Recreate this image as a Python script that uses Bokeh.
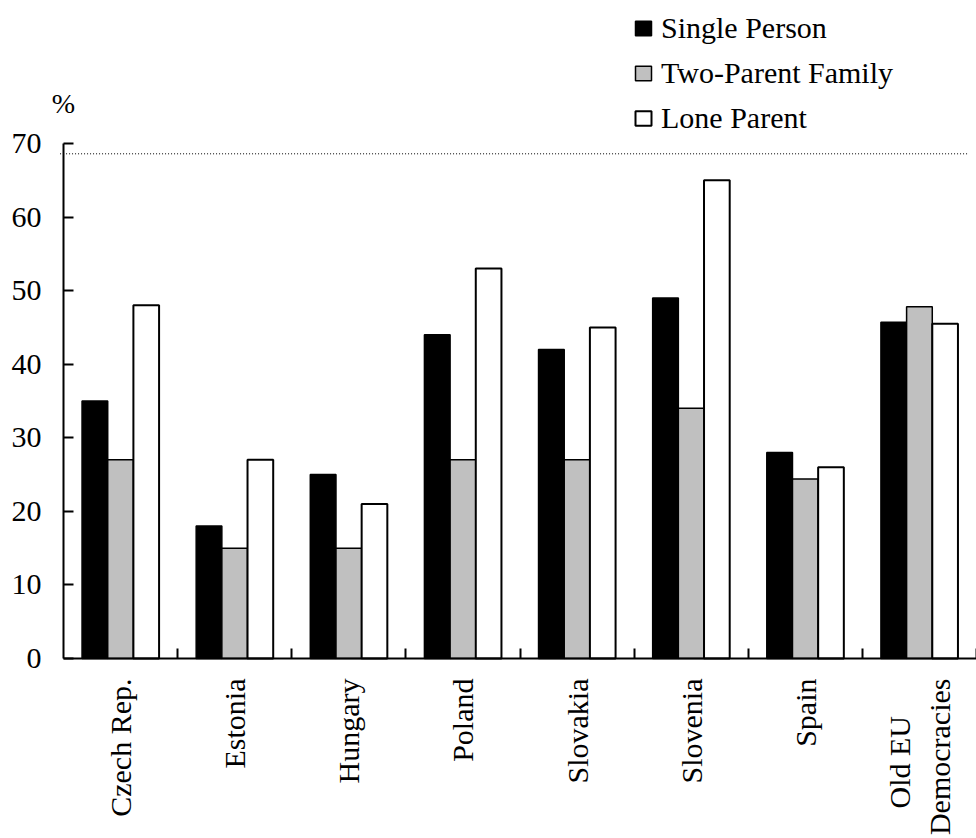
import math
from bokeh.plotting import figure
from bokeh.models import (ColumnDataSource, Range1d, FixedTicker, Legend, LegendItem,
                          Label)
from bokeh.transform import dodge
from bokeh.embed import file_html
from bokeh.resources import INLINE

categories = ["Czech Rep.", "Estonia", "Hungary", "Poland", "Slovakia",
              "Slovenia", "Spain", "Old EU\nDemocracies"]
single_person = [35, 18, 25, 44, 42, 49, 28, 45.7]
two_parent = [27, 15, 15, 27, 27, 34, 24.4, 47.8]
lone_parent = [48, 27, 21, 53, 45, 65, 26, 45.5]
series_names = ["Single Person", "Two-Parent Family", "Lone Parent"]
y_ticks = [0, 10, 20, 30, 40, 50, 60, 70]
y_max = 70
plot_area_top = 68.6
unit_label = "%"

FONT = "Liberation Serif"
W, H = 976, 838
AXIS_X = 63                 # screen x of the value axis
ZERO_Y = 658                # screen y of the zero line
px_per_unit = 515 / y_max
ncat = len(categories)
cat_px = (W - AXIS_X) / ncat
x_start = -0.5 - AXIS_X / cat_px

idx = list(range(ncat))
src = ColumnDataSource(dict(idx=idx, sp=single_person, tp=two_parent, lp=lone_parent))

p = figure(frame_width=W, frame_height=H, output_backend="svg",
           toolbar_location=None,
           x_range=Range1d(x_start, ncat - 0.5),
           y_range=Range1d(-(H - ZERO_Y) / px_per_unit, ZERO_Y / px_per_unit),
           min_border_left=0, min_border_right=0, min_border_top=0,
           min_border_bottom=0)
p.outline_line_color = None
p.xgrid.visible = False
p.ygrid.visible = False
p.background_fill_color = "white"
p.border_fill_color = "white"

bw = 0.225
r1 = p.vbar(x=dodge("idx", -bw, range=p.x_range), top="sp", width=bw, source=src,
            fill_color="black", line_color="black", line_width=1.5)
r2 = p.vbar(x=dodge("idx", 0, range=p.x_range), top="tp", width=bw, source=src,
            fill_color="#C0C0C0", line_color="black", line_width=1.5)
r3 = p.vbar(x=dodge("idx", bw, range=p.x_range), top="lp", width=bw, source=src,
            fill_color="white", line_color="black", line_width=2)

# dotted plot-area border line
p.segment(x0=[-0.53], x1=[ncat - 0.58], y0=[plot_area_top], y1=[plot_area_top],
          line_color="black", line_dash="1 2", line_width=1)

# y axis, drawn at the left edge of the first category
ya = p.yaxis[0]
ya.fixed_location = -0.5
ya.ticker = FixedTicker(ticks=y_ticks)
ya.bounds = (0, y_max)
ya.major_tick_in = 10
ya.major_tick_out = 0
ya.minor_tick_line_color = None
ya.axis_line_width = 2
ya.major_tick_line_width = 2
ya.axis_line_color = "black"
ya.major_label_text_font = FONT
ya.major_label_text_font_size = "30px"
ya.major_label_text_color = "black"
ya.major_label_standoff = 22

# x axis at zero: labels at centres, ticks at boundaries (minor)
def centred(label, pad=5):
    lines = label.split("\n")
    if len(lines) == 1:
        return label
    return "\n".join(l + "\u00a0" * pad if len(l) < max(map(len, lines)) else l
                     for l in lines)

xa = p.xaxis[0]
xa.fixed_location = 0
xa.bounds = (-0.5, ncat - 0.5)
xa.ticker = FixedTicker(ticks=idx, minor_ticks=[i + 0.5 for i in idx])
xa.major_label_overrides = {i: centred(c) for i, c in zip(idx, categories)}
xa.major_tick_in = 0
xa.major_tick_out = 0
xa.minor_tick_in = 10
xa.minor_tick_out = 0
xa.minor_tick_line_width = 2
xa.axis_line_width = 2
xa.axis_line_color = "black"
xa.major_label_orientation = math.pi / 2
xa.major_label_text_font = FONT
xa.major_label_text_font_size = "30px"
xa.major_label_text_color = "black"
xa.major_label_standoff = 20

p.add_layout(Label(x=-0.5, y=75.4, text=unit_label, text_font=FONT,
                   text_font_size="28px", text_align="center",
                   text_baseline="middle", text_color="black"))

legend = Legend(items=[LegendItem(label=series_names[0], renderers=[r1]),
                       LegendItem(label=series_names[1], renderers=[r2]),
                       LegendItem(label=series_names[2], renderers=[r3])],
                location=(633, 524 + (H - ZERO_Y) - 1), orientation="vertical",
                glyph_width=20, glyph_height=18, label_standoff=8, spacing=11,
                padding=0, margin=0, border_line_color=None,
                background_fill_alpha=0, label_text_font=FONT,
                label_text_font_size="30px", label_text_color="black")
p.add_layout(legend, "center")

open("out.html", "w").write(file_html(p, INLINE))
